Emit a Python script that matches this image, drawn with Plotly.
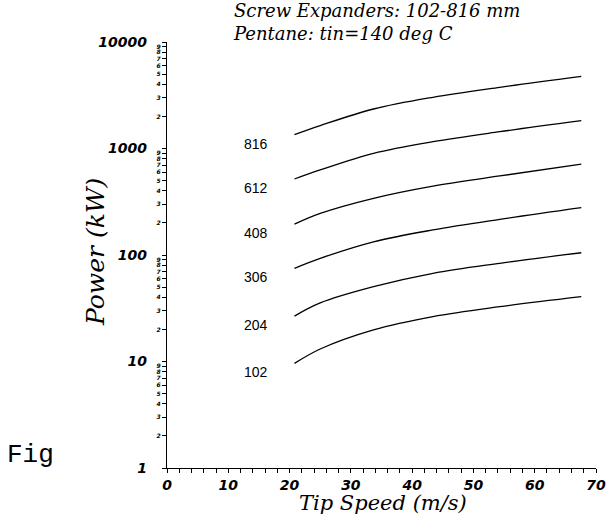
import math
import plotly.graph_objects as go

# Data (tip speed m/s, power kW)
tip_speed = [20.8, 25.0, 33.7, 43.4, 54.3, 67.6]
sizes = ["102", "204", "306", "408", "612", "816"]
power_102 = [9.6, 13.1, 19.8, 26.4, 32.7, 40.6]
power_204 = [26.7, 35.5, 50.4, 67.3, 83.6, 105]
power_306 = [75, 93, 133, 172, 216, 278]
power_408 = [195, 246, 341, 444, 552, 715]
power_612 = [517, 629, 901, 1159, 1438, 1824]
power_816 = [1349, 1640, 2349, 3027, 3758, 4764]
series = [power_102, power_204, power_306, power_408, power_612, power_816]

x_ticks = [0, 10, 20, 30, 40, 50, 60, 70]
y_major = [1, 10, 100, 1000, 10000]
y_major_text = ["1", "10", "100", "1000", "10000"]
minor_digits = [2, 3, 4, 5, 6, 7, 8, 9]
label_x = 14.5

L, R, T, B = 167, 14, 42, 48
W, H = 610, 516
PW, PH = W - L - R, H - T - B

fig = go.Figure()
for s in series:
    fig.add_trace(go.Scatter(x=tip_speed, y=s, mode="lines",
                             line=dict(color="black", width=1.3, shape="spline", smoothing=1.0),
                             showlegend=False, hoverinfo="skip"))

# labels next to each curve start
for name, s in zip(sizes, series):
    fig.add_annotation(x=label_x, y=math.log10(s[0]), xref="x", yref="y", yshift=-9,
                       text=name, showarrow=False,
                       font=dict(family="Liberation Sans", size=14, color="black"))

# minor tick values / digits
mv, mt = [], []
for d in [1, 10, 100, 1000]:
    for m in minor_digits:
        mv.append(m * d)
        mt.append(str(m))
fig.add_trace(go.Scatter(x=[None], y=[None], yaxis="y2", showlegend=False))

tfont = dict(family="DejaVu Sans", size=14, color="black", style="italic", weight="bold")
fig.update_layout(
    width=W, height=H,
    margin=dict(l=L, r=R, t=T, b=B, autoexpand=False),
    paper_bgcolor="white", plot_bgcolor="white",
    xaxis=dict(range=[0, 70], tickvals=x_ticks, ticks="outside", ticklen=4,
               tickwidth=1, tickcolor="black", showline=True, linecolor="black",
               linewidth=1.3, showgrid=False, zeroline=False, tickfont=tfont,
               automargin=False,
               minor=dict(dtick=2, ticks="outside", ticklen=4, tickcolor="black", showgrid=False)),
    yaxis=dict(type="log", range=[0, 4], tickvals=y_major, ticktext=y_major_text,
               ticks="outside", ticklen=4, tickcolor="black", showline=True,
               linecolor="black", linewidth=1.3, showgrid=False, zeroline=False,
               tickfont=tfont, ticklabelstandoff=12, automargin=False),
    yaxis2=dict(type="log", range=[0, 4], overlaying="y", side="left", anchor="x",
                tickvals=mv, ticktext=mt, ticks="outside", ticklen=4, tickcolor="black",
                tickfont=dict(family="DejaVu Sans", size=6, color="black", style="italic", weight="bold"),
                showline=False, showgrid=False, zeroline=False, automargin=False),
)

# axis titles
fig.add_annotation(x=(383 - L) / PW, y=-(503 - (H - B)) / PH, xref="paper", yref="paper",
                   xanchor="center", yanchor="middle", showarrow=False, text="Tip Speed (m/s)",
                   font=dict(family="DejaVu Serif", size=21, color="black", style="italic"))
fig.add_annotation(x=-(L - 95) / PW, y=((H - B) - 252) / PH, xref="paper", yref="paper",
                   xanchor="center", yanchor="middle", showarrow=False, text="Power (kW)",
                   textangle=-90,
                   font=dict(family="DejaVu Serif", size=25, color="black", style="italic"))

# title (two lines)
fig.add_annotation(x=(231 - L) / PW, y=((H - B) - 22) / PH, xref="paper", yref="paper",
                   xanchor="left", yanchor="middle", showarrow=False, align="left",
                   text="Screw Expanders: 102-816 mm<br>Pentane: tin=140 deg C",
                   font=dict(family="DejaVu Serif", size=18, color="black", style="italic"))

fig.add_annotation(x=-(L - 5) / PW, y=((H - B) - 455) / PH, xref="paper", yref="paper",
                   xanchor="left", yanchor="middle", showarrow=False, text="Fig",
                   font=dict(family="Liberation Mono", size=26, color="black"))

fig.write_html("out.html", config={"displayModeBar": False},
               post_script="document.body.style.margin='0';document.body.style.overflow='hidden';")
